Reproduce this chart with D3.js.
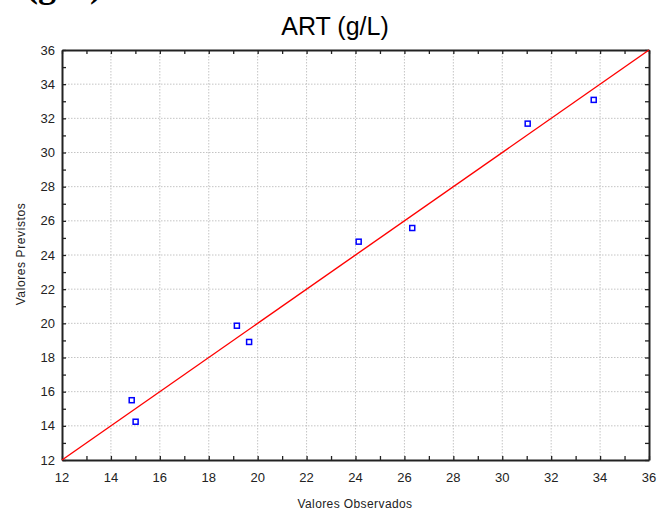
<!DOCTYPE html>
<html>
<head>
<meta charset="utf-8">
<script src="https://cdn.jsdelivr.net/npm/d3@7"></script>
<style>
body { margin: 0; background: #fff; }
svg { display: block; }
text { font-family: "Liberation Sans", Arial, sans-serif; }
</style>
</head>
<body>
<svg></svg>
<script>
var width = 657;
var height = 513;
var margin = {top: 50, right: 8, bottom: 53, left: 62};

var observed  = [14.85, 15.01, 19.15, 19.65, 24.13, 26.32, 31.04, 33.74];
var predicted = [15.50, 14.24, 19.86, 18.91, 24.78, 25.58, 31.69, 33.08];
var majorTicks = [12, 14, 16, 18, 20, 22, 24, 26, 28, 30, 32, 34, 36];
var minorTicks = [13, 15, 17, 19, 21, 23, 25, 27, 29, 31, 33, 35];
var fitLine = [12, 36];

var svg = d3.select("svg").attr("width", width).attr("height", height);

var x = d3.scaleLinear().domain([12, 36]).range([margin.left, width - margin.right]);
var y = d3.scaleLinear().domain([12, 36]).range([height - margin.bottom, margin.top]);

var x0 = x.range()[0], x1 = x.range()[1];
var y0 = y.range()[0], y1 = y.range()[1];

// clipped caption from the page above the chart
svg.append("text")
	.attr("x", 26)
	.attr("y", -3)
	.style("font-family", "'Liberation Serif', serif")
	.attr("font-weight", "bold")
	.attr("font-size", 36)
	.text("(g/L)");

// title
svg.append("text")
	.attr("x", 335)
	.attr("y", 35)
	.attr("text-anchor", "middle")
	.attr("font-size", 25)
	.attr("fill", "#000")
	.text("ART (g/L)");

// grid
svg.selectAll("line.gridx")
	.data(majorTicks.slice(1, -1))
	.enter().append("line").classed("gridx", true)
	.attr("x1", d => x(d)).attr("x2", d => x(d))
	.attr("y1", y1).attr("y2", y0)
	.attr("stroke", "#c4c4c4")
	.attr("stroke-dasharray", "1.5,1.5");

svg.selectAll("line.gridy")
	.data(majorTicks.slice(1, -1))
	.enter().append("line").classed("gridy", true)
	.attr("y1", d => y(d)).attr("y2", d => y(d))
	.attr("x1", x0).attr("x2", x1)
	.attr("stroke", "#c4c4c4")
	.attr("stroke-dasharray", "1.5,1.5");

// axes, ticks pointing inward on all four sides
var tickLen = 4;
var allTicks = majorTicks.concat(minorTicks);
var axBottom = svg.append("g").attr("transform", "translate(0," + y0 + ")")
	.call(d3.axisBottom(x).tickValues(allTicks).tickSize(-tickLen).tickSizeOuter(0).tickFormat(""));
var axTop = svg.append("g").attr("transform", "translate(0," + y1 + ")")
	.call(d3.axisTop(x).tickValues(allTicks).tickSize(-tickLen).tickSizeOuter(0).tickFormat(""));
var axLeft = svg.append("g").attr("transform", "translate(" + x0 + ",0)")
	.call(d3.axisLeft(y).tickValues(allTicks).tickSize(-tickLen).tickSizeOuter(0).tickFormat(""));
var axRight = svg.append("g").attr("transform", "translate(" + x1 + ",0)")
	.call(d3.axisRight(y).tickValues(allTicks).tickSize(-tickLen).tickSizeOuter(0).tickFormat(""));

[axBottom, axTop, axLeft, axRight].forEach(function(g){
	g.select(".domain").attr("stroke", "#222").attr("stroke-width", 2);
	g.selectAll(".tick line").attr("stroke", "#222").attr("stroke-width", 1.3);
});

// tick labels
svg.selectAll("text.xlab")
	.data(majorTicks)
	.enter().append("text").classed("xlab", true)
	.attr("x", d => x(d))
	.attr("y", y0 + 22)
	.attr("text-anchor", "middle")
	.attr("font-size", 13)
	.attr("fill", "#222")
	.text(d => d);

svg.selectAll("text.ylab")
	.data(majorTicks)
	.enter().append("text").classed("ylab", true)
	.attr("x", x0 - 7)
	.attr("y", d => y(d))
	.attr("dy", "0.35em")
	.attr("text-anchor", "end")
	.attr("font-size", 13)
	.attr("fill", "#222")
	.text(d => d);

// axis titles
svg.append("text")
	.attr("x", 355)
	.attr("y", 508)
	.attr("text-anchor", "middle")
	.attr("font-size", 12)
	.attr("letter-spacing", 0.4)
	.attr("fill", "#222")
	.text("Valores Observados");

svg.append("text")
	.attr("transform", "translate(25,254) rotate(-90)")
	.attr("text-anchor", "middle")
	.attr("font-size", 12)
	.attr("letter-spacing", 0.6)
	.attr("fill", "#222")
	.text("Valores Previstos");

// fitted line y = x
svg.append("line")
	.attr("x1", x(fitLine[0])).attr("y1", y(fitLine[0]))
	.attr("x2", x(fitLine[1])).attr("y2", y(fitLine[1]))
	.attr("stroke", "#f00")
	.attr("stroke-width", 1.4);

// points
var s = 5;
svg.selectAll("rect.pt")
	.data(observed)
	.enter().append("rect").classed("pt", true)
	.attr("x", (d, i) => x(d) - s / 2)
	.attr("y", (d, i) => y(predicted[i]) - s / 2)
	.attr("width", s)
	.attr("height", s)
	.attr("fill", "none")
	.attr("stroke", "#0000ff")
	.attr("stroke-width", 1.5);
</script>
</body>
</html>
